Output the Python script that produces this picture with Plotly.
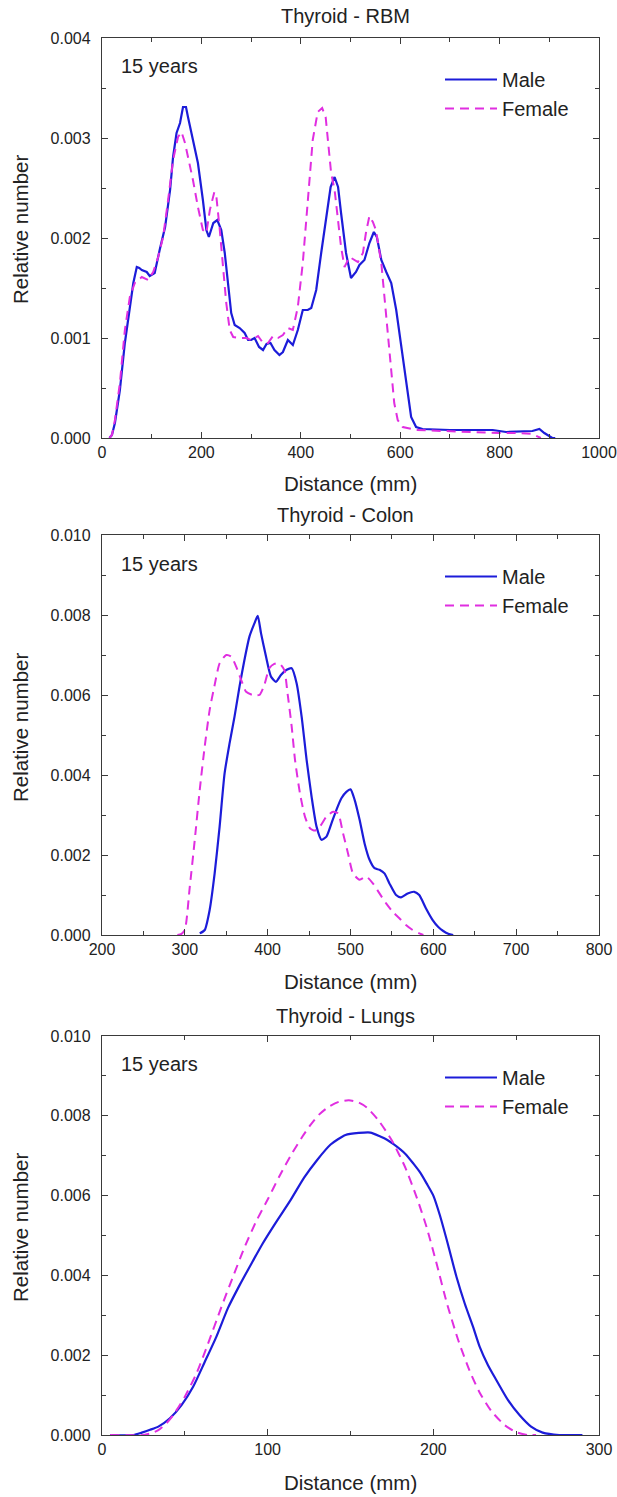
import plotly.graph_objects as go

# ---------------- data ----------------
# Panel 1: Thyroid - RBM
rbm_male_x = [15, 20, 26, 36, 46, 56, 63, 70, 75, 80, 90, 96, 106, 116, 127, 137, 143, 150, 157, 163, 169, 173,
              183, 193, 203, 210, 215, 224, 232, 240, 247, 254, 260, 267, 277, 287, 294, 300, 307, 316, 324, 331,
              339, 347, 357, 364, 374, 384, 394, 404, 414, 421, 431, 441, 451, 460, 468, 475, 481, 491, 501, 511,
              518, 528, 538, 547, 553, 562, 572, 582, 592, 602, 612, 622, 632, 645, 700, 786, 813, 866, 880, 890,
              906, 912]
rbm_male_y = [0, 0.00003, 0.00015, 0.00048, 0.00095, 0.00131, 0.00155, 0.00171, 0.00170, 0.00168, 0.00166,
              0.00162, 0.00165, 0.00188, 0.00211, 0.00248, 0.00281, 0.00305, 0.00315, 0.00331, 0.00331, 0.00321,
              0.00298, 0.00275, 0.00238, 0.00208, 0.00201, 0.00215, 0.00218, 0.00208, 0.00185, 0.00151, 0.00125,
              0.00113, 0.00110, 0.00105, 0.00098, 0.00098, 0.00100, 0.00091, 0.00088, 0.00094, 0.00095, 0.00088,
              0.00083, 0.00086, 0.00098, 0.00093, 0.00108, 0.00128, 0.00128, 0.00130, 0.00148, 0.00185, 0.00221,
              0.00251, 0.00261, 0.00251, 0.00225, 0.00185, 0.00160, 0.00166, 0.00173, 0.00178, 0.00195, 0.00206,
              0.00201, 0.00178, 0.00166, 0.00155, 0.00128, 0.00091, 0.00055, 0.00021, 0.00011, 0.00009, 0.00008,
              0.00008, 0.00006, 0.00007, 0.00009, 0.00005, 0.00000, 0.0]
rbm_female_x = [15, 20, 26, 36, 46, 56, 66, 80, 93, 103, 113, 123, 133, 143, 153, 160, 167, 173, 183, 193, 203,
                210, 217, 226, 230, 237, 244, 250, 257, 264, 277, 291, 300, 314, 324, 334, 344, 354, 364, 374, 384,
                394, 404, 414, 424, 434, 443, 450, 456, 461, 468, 475, 481, 488, 498, 515, 525, 531, 538, 545, 551,
                562, 568, 575, 582, 588, 595, 605, 632, 732, 799, 839, 866, 883]
rbm_female_y = [0, 0.00003, 0.00018, 0.00055, 0.00108, 0.00141, 0.00155, 0.00161, 0.00158, 0.00166, 0.00181,
                0.00201, 0.00238, 0.00278, 0.00301, 0.00306, 0.00295, 0.00281, 0.00258, 0.00231, 0.00208, 0.00205,
                0.00228, 0.00246, 0.00242, 0.00208, 0.00171, 0.00135, 0.00108, 0.00101, 0.00100, 0.00100, 0.00098,
                0.00102, 0.00095, 0.00095, 0.00102, 0.00100, 0.00103, 0.00110, 0.00108, 0.00131, 0.00175, 0.00238,
                0.00298, 0.00326, 0.00330, 0.00321, 0.00291, 0.00265, 0.00248, 0.00218, 0.00191, 0.00171, 0.00181,
                0.00176, 0.00185, 0.00205, 0.00222, 0.00216, 0.00208, 0.00175, 0.00141, 0.00101, 0.00065, 0.00035,
                0.00018, 0.00011, 0.00008, 0.00006, 0.00005, 0.00005, 0.00004, 0.0]

# Panel 2: Thyroid - Colon
colon_male_x = [318, 324, 330, 336, 342, 348, 354, 360, 366, 372, 378, 384, 388, 392, 398, 404, 410, 416, 423,
                429, 435, 441, 447, 453, 459, 465, 471, 477, 483, 489, 495, 500, 505, 511, 517, 523, 529, 535, 541,
                547, 555, 561, 569, 577, 583, 591, 599, 606, 612, 618, 624]
colon_male_y = [0.00004, 0.000125, 0.00063, 0.00154, 0.00271, 0.00404, 0.00479, 0.00546, 0.00621, 0.00688,
                0.00746, 0.00779, 0.00798, 0.00754, 0.00696, 0.00646, 0.00633, 0.00650, 0.00663, 0.00667, 0.00629,
                0.00546, 0.00438, 0.00346, 0.00271, 0.00238, 0.00246, 0.00279, 0.00313, 0.00342, 0.00358, 0.00364,
                0.00338, 0.00288, 0.00229, 0.00188, 0.00167, 0.00163, 0.00154, 0.00129, 0.00100, 0.00094, 0.00104,
                0.00108, 0.00100, 0.00067, 0.00038, 0.00020, 0.00010, 0.00003, 0.0]
colon_female_x = [291, 296, 300, 306, 312, 318, 324, 330, 336, 342, 350, 356, 362, 368, 374, 382, 390, 396, 402,
                  408, 414, 420, 424, 429, 433, 439, 445, 451, 457, 463, 471, 479, 485, 491, 497, 503, 511, 519, 527,
                  535, 543, 551, 559, 567, 575, 583, 588]
colon_female_y = [0, 0.00003, 0.000125, 0.00121, 0.00238, 0.00363, 0.00471, 0.00563, 0.00625, 0.00679, 0.00700,
                  0.00696, 0.00671, 0.00638, 0.00608, 0.00600, 0.00600, 0.00625, 0.00667, 0.00678, 0.00679, 0.00663,
                  0.00604, 0.00521, 0.00438, 0.00354, 0.00296, 0.00267, 0.00261, 0.00271, 0.00296, 0.00308, 0.00304,
                  0.00254, 0.00204, 0.00154, 0.00138, 0.00146, 0.00129, 0.00104, 0.00079, 0.00058, 0.00042, 0.00025,
                  0.000125, 0.00004, 0]

# Panel 3: Thyroid - Lungs
lungs_male_x = [5, 19, 24, 29, 34, 41, 48, 55, 62, 69, 76, 83, 90, 97, 105, 114, 122, 130, 138, 147, 155, 162,
                168, 172, 176, 183, 188, 192, 196, 200, 204, 209, 214, 219, 224, 228, 233, 238, 245, 252, 259, 266,
                276, 290]
lungs_male_y = [0, 0, 0.00006, 0.00013, 0.00021, 0.00042, 0.00075, 0.00121, 0.00183, 0.00246, 0.00318, 0.00375,
                0.00428, 0.00480, 0.00533, 0.00590, 0.00645, 0.00690, 0.00728, 0.00752, 0.00757, 0.00758, 0.00748,
                0.00740, 0.00729, 0.00705, 0.00680, 0.00658, 0.00630, 0.00600, 0.00550, 0.00475, 0.00396, 0.00329,
                0.00271, 0.00221, 0.00175, 0.00138, 0.00088, 0.00050, 0.00021, 0.00006, 0.0, 0.0]
lungs_female_x = [5, 25, 30, 34, 39, 43, 50, 57, 64, 72, 79, 86, 93, 100, 107, 115, 121, 126, 131, 137, 143, 149,
                  155, 160, 167, 175, 183, 190, 196, 202, 208, 215, 222, 228, 235, 243, 250, 257, 262]
lungs_female_y = [0, 0, 0.00005, 0.00012, 0.00030, 0.00050, 0.00096, 0.00154, 0.00229, 0.00320, 0.00396, 0.00470,
                  0.00535, 0.00590, 0.00648, 0.00708, 0.00748, 0.00778, 0.00803, 0.00823, 0.00835, 0.00839, 0.00833,
                  0.00820, 0.00788, 0.00738, 0.00671, 0.00595, 0.00520, 0.00429, 0.00333, 0.00238, 0.00160, 0.00106,
                  0.00060, 0.00025, 0.00007, 0.0, 0.0]

titles = ["Thyroid - RBM", "Thyroid - Colon", "Thyroid - Lungs"]
series_names = ["Male", "Female"]
age_label = "15 years"
x_title = "Distance (mm)"
y_title = "Relative number"

# ---------------- layout helpers ----------------
W, H = 617, 1497
ML, MR, MT, MB = 102, 18, 38, 62
PW, PH = W - ML - MR, H - MT - MB


def px_x(px):
    return (px - ML) / PW


def px_y(py):
    return (H - MB - py) / PH


BLUE = "#1c1cd9"
MAGENTA = "#e02ee0"
AX = "#3a3a3a"
TXT = "#222222"
FONT = "Liberation Sans, Arial, sans-serif"

panels = [
    dict(mx=rbm_male_x, my=rbm_male_y, fx=rbm_female_x, fy=rbm_female_y, xr=[0, 1000], xd=200, xm=100,
         yr=[0, 0.004], yd=0.001, ym=0.0005, top=38, bot=438, shape="linear"),
    dict(mx=colon_male_x, my=colon_male_y, fx=colon_female_x, fy=colon_female_y, xr=[200, 800], xd=100, xm=50,
         yr=[0, 0.010], yd=0.002, ym=0.001, top=535, bot=935, shape="spline"),
    dict(mx=lungs_male_x, my=lungs_male_y, fx=lungs_female_x, fy=lungs_female_y, xr=[0, 300], xd=100, xm=50,
         yr=[0, 0.010], yd=0.002, ym=0.001, top=1036, bot=1435, shape="spline"),
]

fig = go.Figure()
layout = dict(
    width=W, height=H, autosize=False,
    margin=dict(l=ML, r=MR, t=MT, b=MB, pad=0, autoexpand=False),
    paper_bgcolor="white", plot_bgcolor="white",
    font=dict(family=FONT, color=TXT, size=16),
    annotations=[],
)

title_y = [16, 515, 1016]
age_y = [66, 564, 1064]
xt_y = [483, 981, 1482]
yt_y = [230, 728, 1228]
leg_male_y = [80, 577, 1078]

for i, p in enumerate(panels):
    n = "" if i == 0 else str(i + 1)
    xa, ya = "x" + n, "y" + n
    leg = "legend" + n
    fig.add_trace(go.Scatter(x=p["mx"], y=p["my"], mode="lines", name=series_names[0],
                             line=dict(color=BLUE, width=2.2, shape=p["shape"], smoothing=0.6),
                             xaxis=xa, yaxis=ya, legend=leg))
    fig.add_trace(go.Scatter(x=p["fx"], y=p["fy"], mode="lines", name=series_names[1],
                             line=dict(color=MAGENTA, width=2, dash="9px,6px", shape=p["shape"], smoothing=0.6),
                             xaxis=xa, yaxis=ya, legend=leg))
    common = dict(showline=True, linecolor=AX, linewidth=1.3, mirror="ticks", ticks="inside", ticklen=6,
                  tickwidth=1.3, tickcolor=AX, showgrid=False, zeroline=False, automargin=False,
                  tickfont=dict(size=16, color=TXT))
    layout["xaxis" + n] = dict(common, range=p["xr"], dtick=p["xd"], tick0=0,
                               domain=[0, 1], anchor=ya,
                               minor=dict(ticks="inside", ticklen=3.5, tickwidth=1.2, tickcolor=AX, dtick=p["xm"],
                                          showgrid=False))
    layout["yaxis" + n] = dict(common, range=p["yr"], dtick=p["yd"], tick0=0, tickformat=".3f",
                               ticklabelstandoff=7,
                               domain=[px_y(p["bot"]), px_y(p["top"])], anchor=xa,
                               minor=dict(ticks="inside", ticklen=3.5, tickwidth=1.2, tickcolor=AX, dtick=p["ym"],
                                          showgrid=False))
    layout[leg] = dict(x=px_x(440), y=px_y(leg_male_y[i] - 20), xanchor="left", yanchor="top",
                       bgcolor="rgba(0,0,0,0)", borderwidth=0, font=dict(size=20, color=TXT),
                       itemwidth=52, tracegroupgap=0)
    layout["annotations"] += [
        dict(text=titles[i], x=px_x(345), y=px_y(title_y[i]), xref="paper", yref="paper", showarrow=False,
             xanchor="center", yanchor="middle", font=dict(size=20, color=TXT)),
        dict(text=age_label, x=px_x(119), y=px_y(age_y[i]), xref="paper", yref="paper", showarrow=False,
             xanchor="left", yanchor="middle", font=dict(size=20, color=TXT)),
        dict(text=x_title, x=px_x(350), y=px_y(xt_y[i]), xref="paper", yref="paper", showarrow=False,
             xanchor="center", yanchor="middle", font=dict(size=20.5, color=TXT)),
        dict(text=y_title, x=px_x(20), y=px_y(yt_y[i]), xref="paper", yref="paper", showarrow=False,
             xanchor="center", yanchor="middle", textangle=-90, font=dict(size=20.5, color=TXT)),
    ]

fig.update_layout(**layout)
fig.write_html("out.html", config={"responsive": False, "displayModeBar": False},
               post_script="document.body.style.margin='0px';document.body.style.overflow='hidden';")
